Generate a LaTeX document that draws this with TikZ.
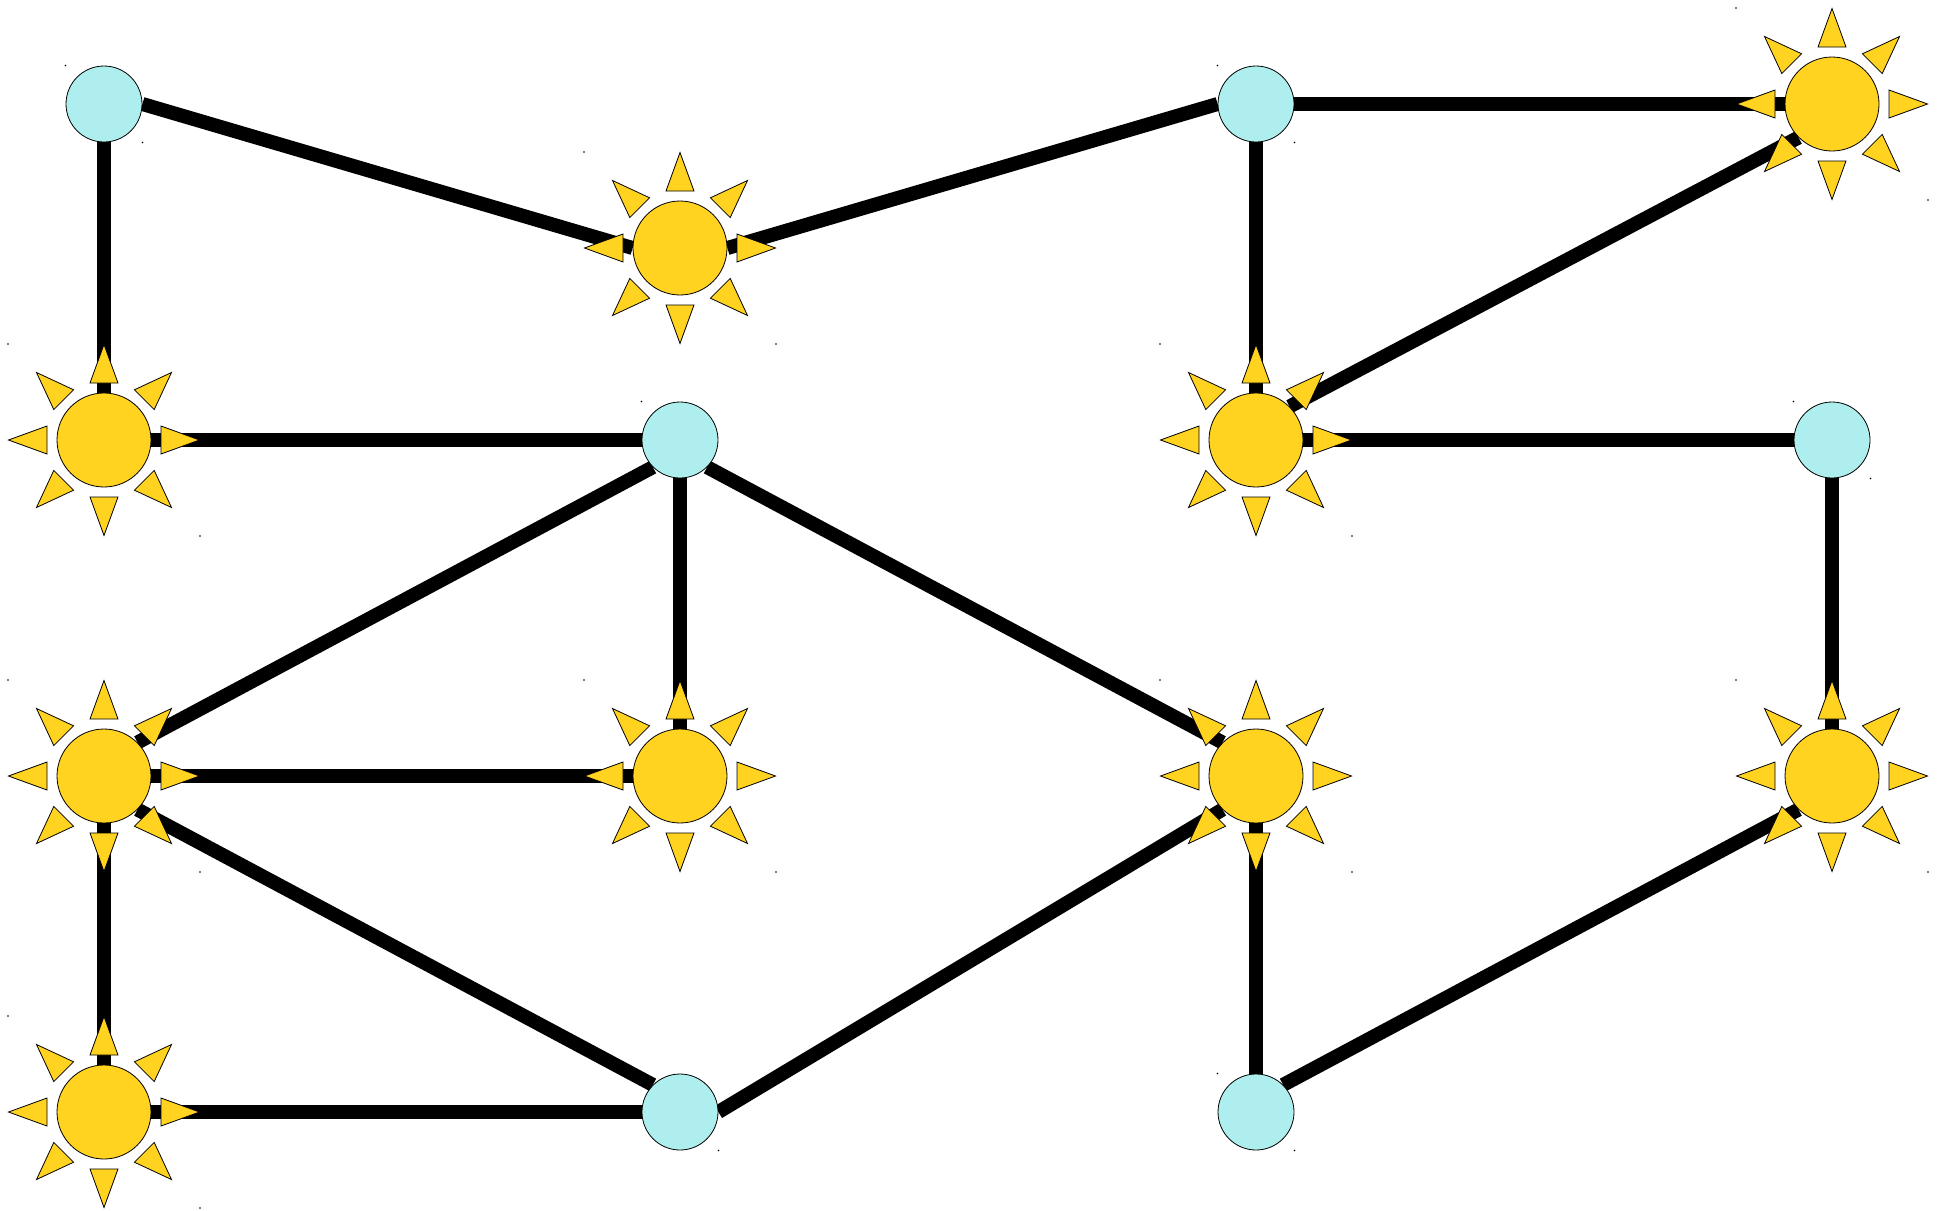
\documentclass[tikz,border=0pt]{standalone}
\usepackage{tikz}
\usetikzlibrary{backgrounds}
\definecolor{hubblue}{RGB}{175,238,238}
\definecolor{sunyellow}{RGB}{255,211,32}
\begin{document}
\begin{tikzpicture}[x=1pt, y=-1pt, every node/.style={circle, draw=black, line width=0.8pt, inner sep=0pt}, hub/.style={fill=hubblue, minimum size=76pt}, sun/.style={fill=sunyellow, minimum size=94pt}, ray/.style={draw=black, fill=sunyellow, line width=0.8pt}, link/.style={line width=14pt}]
  \useasboundingbox (0,0) rectangle (1945,1210);
  \node[hub](b1) at (104,104){};
  \node[hub](b2) at (1256,104){};
  \node[hub](b3) at (680,440){};
  \node[hub](b4) at (1832,440){};
  \node[hub](b5) at (680,1112){};
  \node[hub](b6) at (1256,1112){};
  \node[sun](s1) at (680,248){};
  \node[sun](s2) at (1832,104){};
  \node[sun](s3) at (104,440){};
  \node[sun](s4) at (1256,440){};
  \node[sun](s5) at (104,776){};
  \node[sun](s6) at (680,776){};
  \node[sun](s7) at (1256,776){};
  \node[sun](s8) at (1832,776){};
  \node[sun](s9) at (104,1112){};
  \foreach \s in {s1,s2,s3,s4,s5,s6,s7,s8,s9}
    \foreach \a in {0,45,...,315}
      \filldraw[ray, shift={(\s.center)}, rotate=\a] (57,-14) -- (95.5,0) -- (57,14) -- cycle;
  \begin{scope}[on background layer]
    \foreach \n/\d in {b1/38.5,b2/38.5,b3/38.5,b4/38.5,b5/38.5,b6/38.5,s1/96,s2/96,s3/96,s4/96,s5/96,s6/96,s7/96,s8/96,s9/96}
      \fill[shift={(\n.center)}] (-\d,-\d) circle (0.9pt) (\d,\d) circle (0.9pt);
    \draw[link] (b1.east) -- (s1.west);
    \draw[link] (s1.east) -- (b2.west);
    \draw[link] (b1.south) -- (s3.north);
    \draw[link] (b2.east) -- (s2.west);
    \draw[link] (b2.south) -- (s4.north);
    \draw[link] (s2.south west) -- (s4.north east);
    \draw[link] (s3.east) -- (b3.west);
    \draw[link] (b3.south west) -- (s5.north east);
    \draw[link] (b3.south) -- (s6.north);
    \draw[link] (b3.south east) -- (s7.north west);
    \draw[link] (s4.east) -- (b4.west);
    \draw[link] (b4.south) -- (s8.north);
    \draw[link] (s5.east) -- (s6.west);
    \draw[link] (s5.south) -- (s9.north);
    \draw[link] (s5.south east) -- (b5.north west);
    \draw[link] (s9.east) -- (b5.west);
    \draw[link] (b5.east) -- (s7.south west);
    \draw[link] (s7.south) -- (b6.north);
    \draw[link] (b6.north east) -- (s8.south west);
  \end{scope}
\end{tikzpicture}
\end{document}
